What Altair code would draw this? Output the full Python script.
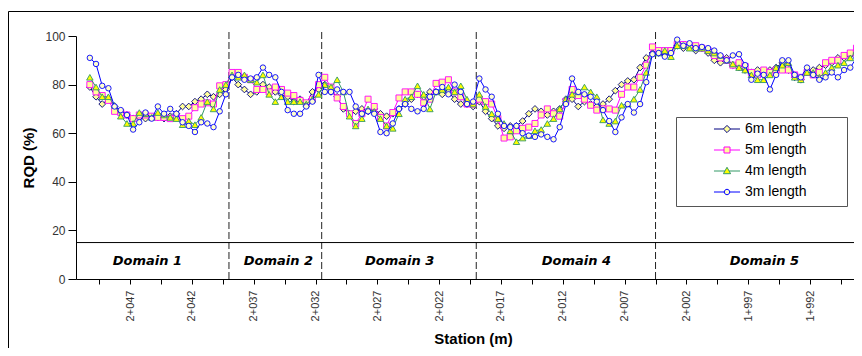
import altair as alt
import pandas as pd

# ---------------- data ----------------
series_names = ["6m length", "5m length", "4m length", "3m length"]

# stations (m), plotted every 0.5 m, from 2+050.25 down to 1+987.75
stations = [round(2050.25 - 0.5 * i, 2) for i in range(126)]

rqd_6m = [79, 75, 72, 74, 71, 68, 67.5, 66, 66.5, 66, 66.5, 66.5, 66, 67, 68, 71, 71, 73, 74, 76, 75, 76, 78,
          83, 80, 78, 76, 77, 80, 79, 77, 76, 75, 73, 74, 72, 77, 78,
          80, 77, 75, 70, 68, 69, 70, 69, 70, 68, 67, 68, 70, 72, 74, 76, 75, 77, 77, 76, 77, 74, 72, 72, 71,
          73, 69, 66, 63, 62, 63, 63, 65, 68, 70, 69, 67.5, 69, 70, 74, 74, 71, 73, 72, 71, 72, 74, 77.5, 80, 81.5, 82, 87, 91, 93,
          93, 92, 94, 96, 95, 96, 94, 95, 93, 90, 89, 91, 88, 87, 86, 85, 86, 84, 86, 87, 89, 86, 83, 82, 85, 86, 87, 88, 89, 91, 91, 92, 94, 96]

rqd_5m = [80, 77, 75.5, 73.5, 69, 68.5, 67.5, 66, 67.5, 67.5, 67, 66.5, 66.5, 66, 66.5, 66, 67, 70.5, 72, 72.5, 72, 79.5, 80,
          85, 85, 83, 82, 78, 78, 77, 79, 78, 76.5, 75.5, 73.5, 72.5, 74, 80,
          83, 79, 74.5, 71, 68, 64, 68, 74, 71, 66.5, 63, 68.5, 74.5, 77, 77, 76, 72.5, 74, 80.5, 81, 82, 77, 75, 72, 72,
          74, 73, 72, 66, 58, 58.5, 61, 62, 62.5, 64, 67.5, 70, 68, 67, 73, 78, 75.5, 74, 71.5, 69.5, 70, 70, 69.5, 76, 79, 79, 83, 88, 95.5,
          94, 94, 94, 96.5, 96.5, 96, 96, 95, 94, 92, 91, 90, 88, 89, 87.5, 85, 84, 86, 85, 86, 86, 86, 84, 83, 85, 84, 85, 89, 90, 90, 92, 93, 95, 97]

rqd_4m = [83, 79, 75, 75, 71.5, 67, 64, 64, 68.5, 68, 66.5, 68.5, 67.5, 66.5, 66, 63.5, 65, 63.5, 66.5, 73, 70, 78, 80,
          84, 83, 84, 82, 81, 84, 76, 73, 75, 73, 73, 73, 72, 74, 76,
          80, 79, 82, 77, 67, 63, 66, 70, 69, 66, 63, 62, 68, 74, 75, 79.5, 76, 70, 77, 78, 79, 77, 79.5, 74, 72,
          76, 71, 68, 66, 64, 61, 56.5, 58, 59, 61, 61.5, 64, 66, 70, 74, 76, 77, 79, 77, 75, 65.5, 64, 65, 71.5, 72, 74, 78, 85, 93,
          93, 94, 91.5, 96, 96, 95, 95, 95, 94, 93, 92, 90, 88.5, 87, 86, 84, 82, 82, 84, 87, 88, 89, 83, 82, 85, 85, 83, 85, 87, 88, 89, 91, 94, 97]

rqd_3m = [91, 88.5, 79.5, 78.5, 71, 69.5, 67.5, 61.5, 64.5, 68.5, 66, 71, 68, 70, 68, 64.5, 63, 60.5, 64.5, 64, 62.5, 69, 76,
          83, 84, 82, 82.5, 83, 87, 84, 83, 77, 69.5, 68, 68, 71, 73, 84,
          77, 77, 78, 77, 77, 71, 68, 69, 68, 60.5, 60, 64, 70, 72, 70, 69, 70, 75, 77, 79, 76, 80, 77, 72, 73,
          82.5, 78, 75, 68, 63, 62.5, 63, 60, 59, 58.5, 59.5, 58.5, 57.5, 62.5, 72, 82.5, 77, 76, 75, 73, 69.5, 65, 60.5, 66.5, 72, 68.5, 72, 81, 92.5,
          93, 91.5, 93, 98.5, 96, 97, 95, 95.5, 95, 94, 92, 90, 92, 92.5, 88, 82, 84.5, 84, 78, 84, 90, 90, 84, 83, 87, 84, 82, 83, 85, 83, 86, 87, 91, 97]

series_values = [rqd_6m, rqd_5m, rqd_4m, rqd_3m]

domain_bounds = [2039.0, 2031.5, 2019.0, 2004.5]
domain_names = ["Domain 1", "Domain 2", "Domain 3", "Domain 4", "Domain 5"]
domain_label_st = [2045.6, 2035.0, 2025.2, 2010.9, 1995.7]
domain_label_y = 7.5
domain_band_top = 15

tick_values = [2049.5 - 2.5 * k for k in range(25)]
y_ticks = [0, 20, 40, 60, 80, 100]

# ---------------- styles ----------------
line_colors = ["#000080", "#FF00FF", "#339966", "#0000FF"]
marker_fills = ["#FFFF99", "#FFFF99", "#FFFF00", "#FFFFCC"]
marker_shapes = ["diamond", "square", "triangle-up", "circle"]
marker_sizes = [45, 36, 42, 30]
legend_paths = [
    "M-2.17,0H-0.6M0.6,0H2.17M0,-0.6L0.6,0L0,0.6L-0.6,0Z",
    "M-2.17,0H-0.5M0.5,0H2.17M-0.5,-0.5H0.5V0.5H-0.5Z",
    "M-2.17,0H-0.35M0.35,0H2.17M0,-0.62L0.6,0.45L-0.6,0.45Z",
    "M-2.17,0H-0.45M0.45,0H2.17M0.45,0A0.45,0.45,0,1,1,-0.45,0A0.45,0.45,0,1,1,0.45,0Z",
]

FONT = "Liberation Sans"

rows = []
for name, vals in zip(series_names, series_values):
    for s, v in zip(stations, vals):
        rows.append({"station": s, "rqd": v, "series": name})
df = pd.DataFrame(rows)

x_scale = alt.Scale(domain=[1988.45, 2051.37], reverse=True, nice=False, zero=False)
y_scale = alt.Scale(domain=[0, 100], nice=False)

label_expr = ("((2047 - datum.value) % 5 == 0) ? (floor(datum.value / 1000) + '+' + "
              "((datum.value % 1000) < 10 ? '00' : ((datum.value % 1000) < 100 ? '0' : '')) + "
              "(datum.value % 1000)) : ''")

x_axis = alt.Axis(values=tick_values, labelExpr=label_expr, labelAngle=270, labelFont=FONT,
                  labelFontSize=11, labelColor="#333333", labelPadding=6, labelOverlap=False,
                  labelFlush=False, tickSize=5, tickColor="black", domainColor="black",
                  grid=False, title="Station (m)", titleFont=FONT, titleFontSize=15,
                  titleFontWeight="bold", titleColor="black", titlePadding=11, titleX=397)
y_axis = alt.Axis(values=y_ticks, labelFont=FONT, labelFontSize=12, labelColor="#333333",
                  labelPadding=3, tickSize=8, tickColor="black", domainColor="black",
                  grid=False, title="RQD (%)", titleFont=FONT, titleFontSize=15,
                  titleFontWeight="bold", titleColor="black", titlePadding=8)

X = alt.X("station:Q", scale=x_scale, axis=x_axis)
Y = alt.Y("rqd:Q", scale=y_scale, axis=y_axis)

layers = []

one = pd.DataFrame({"a": [0]})
# outer chart frame
layers.append(alt.Chart(one).mark_rule(color="black", strokeWidth=1).encode(
    x=alt.value(-67.5), x2=alt.value(800), y=alt.value(-24.5)))
layers.append(alt.Chart(one).mark_rule(color="black", strokeWidth=1).encode(
    x=alt.value(-67.5), y=alt.value(-24.5), y2=alt.value(330)))

# domain separators
bounds_df = pd.DataFrame({"station": domain_bounds})
layers.append(alt.Chart(bounds_df).mark_rule(color="#222222", strokeWidth=1, strokeDash=[7, 3]).encode(
    x=alt.X("station:Q", scale=x_scale, axis=x_axis), y=alt.datum(0), y2=alt.datum(102)))
layers.append(alt.Chart(one).mark_rule(color="black", strokeWidth=1).encode(y=alt.datum(domain_band_top)))

labels_df = pd.DataFrame({"station": domain_label_st, "name": domain_names, "yy": [domain_label_y] * 5})
layers.append(alt.Chart(labels_df).mark_text(font="DejaVu Sans", fontSize=13, fontStyle="italic",
                                              fontWeight="bold", color="black").encode(
    x=alt.X("station:Q", scale=x_scale, axis=x_axis),
    y=alt.Y("yy:Q", scale=y_scale, axis=y_axis), text="name:N"))

for k, name in enumerate(series_names):
    sub = df[df["series"] == name]
    base = alt.Chart(sub)
    layers.append(base.mark_line(color=line_colors[k], strokeWidth=1).encode(x=X, y=Y))
    layers.append(base.mark_point(shape=marker_shapes[k], size=marker_sizes[k], filled=True,
                                  fill=marker_fills[k], stroke=line_colors[k], strokeWidth=0.9,
                                  opacity=1).encode(x=X, y=Y))

# legend frame
layers.append(alt.Chart(one).mark_rect(fill="white", stroke="#555555", strokeWidth=1).encode(
    x=alt.value(600.5), x2=alt.value(771.5), y=alt.value(81.5), y2=alt.value(170.5)))

legend = alt.Legend(title=None, orient="none", legendX=600, legendY=80, padding=6,
                    symbolSize=144, symbolStrokeWidth=1, symbolOpacity=1, symbolOffset=38,
                    labelOffset=11, rowPadding=7, labelFont=FONT, labelFontSize=14,
                    labelColor="black")

layers.append(alt.Chart(df).mark_point(opacity=0).encode(
    x=X, y=Y,
    stroke=alt.Stroke("series:N", scale=alt.Scale(domain=series_names, range=line_colors), legend=legend),
    fill=alt.Fill("series:N", scale=alt.Scale(domain=series_names, range=marker_fills), legend=legend),
    shape=alt.Shape("series:N", scale=alt.Scale(domain=series_names, range=legend_paths), legend=legend),
))

chart = alt.layer(*layers).properties(
    width=778, height=243,
    padding={"left": 68, "top": 28, "right": 0, "bottom": 69},
    autosize=alt.AutoSizeParams(type="none"),
    background="white",
).configure_view(stroke=None)

chart.save("out.html", embed_options={"renderer": "svg", "actions": False})
